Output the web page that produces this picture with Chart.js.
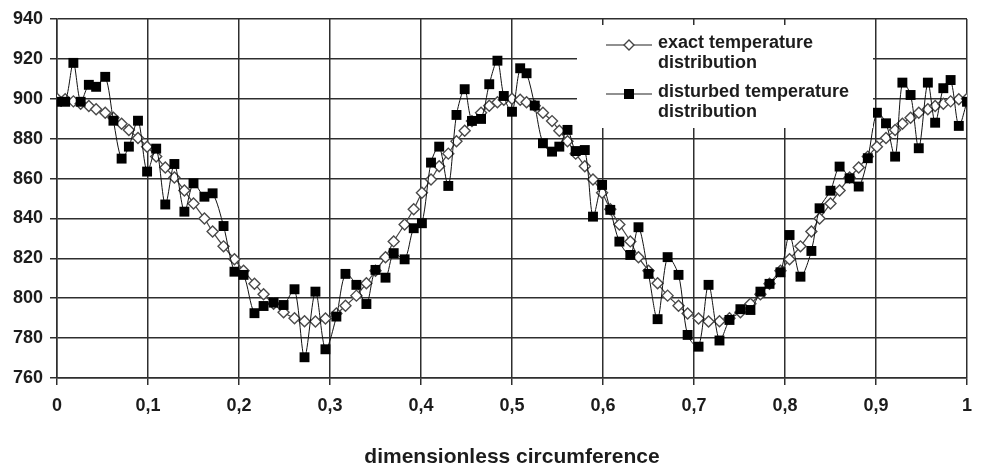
<!DOCTYPE html>
<html lang="en">
<head>
<meta charset="UTF-8">
<title>Exact vs disturbed temperature distribution</title>
<script src="https://cdn.jsdelivr.net/npm/chart.js"></script>
<style>
    body {
        margin: 0;
        background: #ffffff;
    }
    #wrap {
        width: 982px;
        height: 470px;
    }
</style>
</head>
<body>
<div id="wrap"><canvas id="tempChart" width="982" height="470"></canvas></div>
<script>
const positions = [
    0, 0.009, 0.018, 0.026, 0.035, 0.043, 0.053, 0.062, 0.071, 0.079,
    0.089, 0.099, 0.109, 0.119, 0.129, 0.140, 0.150, 0.162, 0.171, 0.183,
    0.195, 0.205, 0.217, 0.227, 0.238, 0.249, 0.261, 0.272, 0.284, 0.295,
    0.307, 0.317, 0.329, 0.340, 0.350, 0.361, 0.370, 0.382, 0.392, 0.401,
    0.411, 0.420, 0.430, 0.439, 0.448, 0.456, 0.466, 0.475, 0.484, 0.491,
    0.5, 0.509, 0.516, 0.525, 0.534, 0.544, 0.552, 0.561, 0.570, 0.580,
    0.589, 0.599, 0.608, 0.618, 0.630, 0.639, 0.650, 0.660, 0.671, 0.683,
    0.693, 0.705, 0.716, 0.728, 0.739, 0.751, 0.762, 0.773, 0.783, 0.795,
    0.805, 0.817, 0.829, 0.838, 0.850, 0.860, 0.871, 0.881, 0.891, 0.901,
    0.911, 0.921, 0.929, 0.938, 0.947, 0.957, 0.965, 0.974, 0.982, 0.991,
    1
];

const exactTemp = [
    900, 899.8, 898.7, 897.5, 896.4, 894.8, 893, 890.5, 887.5, 884.3,
    880.3, 876, 871, 865.5, 860.5, 854, 847.5, 840, 833.4, 826,
    819.5, 813.8, 807.3, 802, 797.2, 793, 790, 788.5, 788.3, 789.8,
    792.3, 796.2, 801.3, 807.5, 813.8, 820.5, 828.5, 837, 844.6, 852.9,
    859.5, 866.2, 872.5, 878.7, 884, 888.8, 893, 896.5, 898.3, 899.5,
    900, 899.5, 898.3, 896.5, 893, 888.8, 884, 878.7, 872.5, 866.2,
    859.5, 852.9, 844.6, 837, 828.5, 820.5, 813.8, 807.5, 801.3, 796.2,
    792.3, 789.8, 788.3, 788.5, 790, 793, 797.2, 802, 807.3, 813.8,
    819.5, 826, 833.4, 840, 847.5, 854, 860.5, 865.5, 871, 876,
    880.3, 884.3, 887.5, 890.5, 893, 894.8, 896.4, 897.5, 898.7, 899.8,
    900
];

const disturbedTemp = [
    898.5, 898.5, 918, 898.5, 907, 906, 911, 889, 870, 876,
    889, 863.5, 875, 847, 867.3, 843.4, 857.6, 850.9, 852.6, 836.2,
    813.3, 811.7, 792.5, 796.1, 797.8, 796.6, 804.5, 770.4, 803.3, 774.4,
    790.8, 812.2, 806.7, 797.1, 814.2, 810.3, 822.6, 819.5, 835.1, 837.6,
    868, 876, 856.3, 891.9, 904.8, 888.9, 889.9, 907.3, 919.1, 901.4,
    893.5, 915.3, 912.8, 896.6, 877.7, 873.5, 876, 884.4, 873.8, 874.3,
    840.9, 856.8, 844.3, 828.4, 821.7, 835.6, 812.2, 789.5, 820.6, 811.7,
    781.6, 775.7, 806.7, 778.8, 789.1, 794.5, 794.1, 803.3, 807.2, 813,
    831.7, 810.8, 823.7, 845.1, 853.9, 866, 860.1, 856, 870.2, 893,
    887.7, 871, 908.1, 901.9, 875.2, 908.1, 888, 905.3, 909.4, 886.4,
    898.5
];

const seriesNames = ['exact temperature distribution', 'disturbed temperature distribution'];
const axisTitle = 'dimensionless circumference';

const gridColor = '#2e2e2e';
const textColor = '#1c1c1c';

Chart.defaults.font.family = '"Liberation Sans", Arial, sans-serif';
Chart.defaults.color = textColor;

function toPoints(values) {
    return values.map((v, i) => ({ x: positions[i], y: v }));
}

// legend drawn inside the plot, on a white box, like the original
const boxLegend = {
    id: 'boxLegend',
    afterDraw(chart) {
        const ctx = chart.ctx;
        ctx.save();
        ctx.fillStyle = '#ffffff';
        ctx.fillRect(577, 25, 296, 103);

        const rows = [
            { y: 45, text: ['exact temperature', 'distribution'], ty: 43, marker: 'diamond' },
            { y: 94, text: ['disturbed temperature', 'distribution'], ty: 92, marker: 'square' }
        ];
        rows.forEach(r => {
            ctx.strokeStyle = '#222';
            ctx.lineWidth = 1.2;
            ctx.beginPath();
            ctx.moveTo(606, r.y);
            ctx.lineTo(652, r.y);
            ctx.stroke();
            if (r.marker === 'diamond') {
                ctx.beginPath();
                ctx.moveTo(629, r.y - 5);
                ctx.lineTo(634, r.y);
                ctx.lineTo(629, r.y + 5);
                ctx.lineTo(624, r.y);
                ctx.closePath();
                ctx.fillStyle = '#ffffff';
                ctx.fill();
                ctx.strokeStyle = '#444';
                ctx.lineWidth = 1.4;
                ctx.stroke();
            } else {
                ctx.fillStyle = '#000';
                ctx.fillRect(624, r.y - 5, 10, 10);
            }
            ctx.fillStyle = textColor;
            ctx.font = 'bold 18px "Liberation Sans", Arial, sans-serif';
            ctx.textBaseline = 'middle';
            ctx.textAlign = 'left';
            ctx.fillText(r.text[0], 658, r.ty);
            ctx.fillText(r.text[1], 658, r.ty + 20);
        });
        ctx.restore();
    }
};

const ctx = document.getElementById('tempChart').getContext('2d');
const chart = new Chart(ctx, {
    type: 'line',
    data: {
        datasets: [
            {
                label: seriesNames[0],
                data: toPoints(exactTemp),
                borderColor: '#444',
                borderWidth: 1.2,
                pointStyle: 'rectRot',
                pointRadius: 5.5,
                pointBackgroundColor: '#ffffff',
                pointBorderColor: '#4a4a4a',
                pointBorderWidth: 1.4,
                tension: 0.3,
                order: 2
            },
            {
                label: seriesNames[1],
                data: toPoints(disturbedTemp),
                borderColor: '#111',
                borderWidth: 1,
                pointStyle: 'rect',
                pointRadius: 7,
                pointBackgroundColor: '#000',
                pointBorderColor: '#000',
                pointBorderWidth: 0,
                tension: 0.3,
                order: 1
            }
        ]
    },
    options: {
        responsive: false,
        animation: false,
        devicePixelRatio: 1,
        layout: { padding: { top: 19, right: 6, left: 0, bottom: 0 } },
        scales: {
            x: {
                type: 'linear',
                min: 0,
                max: 1,
                ticks: {
                    stepSize: 0.1,
                    padding: 10,
                    color: textColor,
                    font: { size: 18, weight: 'bold' },
                    callback: v => String(+v.toFixed(1)).replace('.', ',')
                },
                grid: { color: gridColor, lineWidth: 1.5, tickLength: 7 },
                border: { color: gridColor, width: 1.5 },
                title: {
                    display: true,
                    text: axisTitle,
                    color: textColor,
                    font: { size: 21, weight: 'bold' },
                    padding: { top: 0, bottom: 0 }
                },
                afterFit: s => { s.height = 92; }
            },
            y: {
                min: 760,
                max: 940,
                ticks: {
                    stepSize: 20,
                    padding: 7,
                    color: textColor,
                    font: { size: 18, weight: 'bold' }
                },
                grid: { color: gridColor, lineWidth: 1.5, tickLength: 7 },
                border: { color: gridColor, width: 1.5 },
                afterFit: s => { s.width = 57; }
            }
        },
        plugins: {
            legend: { display: false },
            tooltip: { enabled: false }
        }
    },
    plugins: [boxLegend]
});
</script>
</body>
</html>
